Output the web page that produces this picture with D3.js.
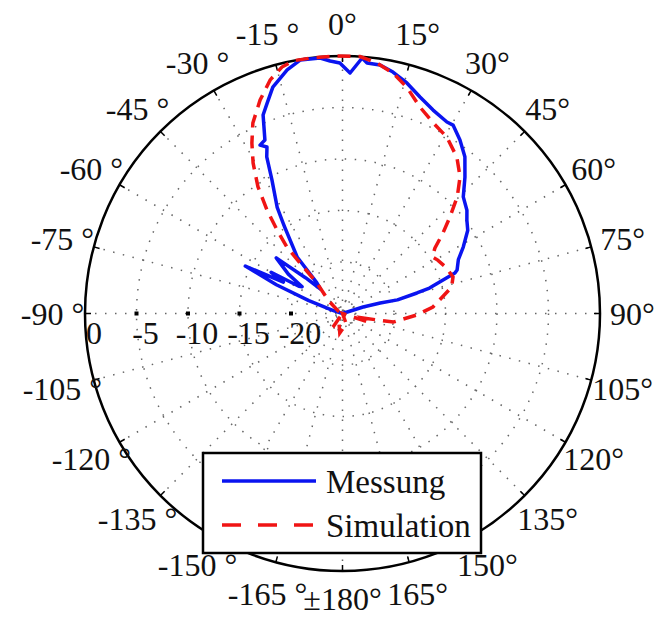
<!DOCTYPE html>
<html>
<head>
<meta charset="utf-8">
<script src="https://cdn.jsdelivr.net/npm/d3@7"></script>
<style>
  body { margin: 0; background: #fff; }
  svg text { font-family: "Liberation Serif", "Times New Roman", serif; fill: #111; }
</style>
</head>
<body>
<svg id="chart" width="659" height="620"></svg>
<script>
// angle in degrees (0 = top, clockwise), value in dB
const messAngles = [-180, -120, -80, -72, -69, -66.5, -64, -62, -60, -58, -56.5, -54, -50, -46, -42,
  -39.9, -38.8, -33.9, -33.3, -31.6, -27.8, -25.8, -24.4, -26.1, -24.1, -21.8, -19.7, -17.1, -12.8,
  -9.5, -5, -2.8, -0.6, 1.8, 4.4, 5.6, 8.6, 11.8, 15.6, 19.7, 24, 28.6, 30.4, 34.1, 38, 41.9, 46,
  50.3, 53.1, 56.4, 61.1, 65.1, 69.2, 70.2, 73.7, 74.6, 76.1, 74.4, 72.4, 80, 120, 180];
const messDb = [-25, -25, -25, -24, -21.5, -18, -14.5, -18.5, -17, -20, -20.3, -18.5, -16.6, -20, -21.8,
  -21.1, -18, -15, -14.5, -12.9, -10.3, -8.1, -7.25, -6.8, -6.55, -4.24, -3.3, -2, -0.75,
  -0.05, -0.1, -0.46, -0.68, -1.64, -0.12, -0.56, -0.6, -1.05, -1.76, -2.68, -3.38, -3.82, -3.79, -4.66, -5.7, -7.2, -8.7,
  -9.3, -9.9, -10.4, -11.6, -12.6, -13.1, -13.4, -16.2, -17.5, -19.5, -21.2, -22.9, -25, -25, -25];

const simAngles = [-180, -172, -160, -145, -100, -60, -47, -39.9, -40.1, -39.9, -38.1, -36.1, -33.7, -30.7,
  -28, -25.2, -21.1, -17.2, -13.8, -11, -6.6, -1.2, 3.9, 7.8, 11.9, 16, 20.6, 25.4, 30.6, 36.2, 40.7,
  44.5, 48.1, 51.3, 54.7, 57.7, 60.7, 66, 71.7, 76.4, 85.9, 91.2, 99.6, 102.4, 108.4, 130, 160, 180];
const simDb = [-23.5, -23.1, -24, -23.4, -25, -24.5, -23.1, -21.1, -18.6, -16.6, -14.7, -12.56, -10.2, -8,
  -6.26, -4.56, -2.78, -1.26, -0.36, 0, 0, 0, 0, -0.45, -1.15, -2.2, -3.6, -4.5, -5.1, -6.2, -7.5,
  -9.1, -11, -12.5, -14, -14.7, -14.4, -14, -13.7, -14.1, -16.2, -17.8, -20, -23, -22.4, -25, -24, -23.5];

const ringValues = [-20, -15, -10, -5];
const innerRing = -23.8;
const radialLabels = [0, -5, -10, -15, -20];
const angleTicks = d3.range(-165, 181, 15);
const seriesNames = ["Messung", "Simulation"];

const svg = d3.select("#chart");
const cx = 342.5, cy = 313.5, R = 257.5;
const g = svg.append("g").attr("transform", `translate(${cx},${cy})`);

const r = d3.scaleLinear().domain([-25, 0]).range([0, R]).clamp(true);
const rad = d => d * Math.PI / 180;

// dotted grid
const gridStyle = s => s.attr("fill", "none").attr("stroke", "#666")
  .attr("stroke-width", 1.5).attr("stroke-dasharray", "1.5,8.5");

g.selectAll(".ring").data(ringValues.concat([innerRing])).enter()
  .append("circle").attr("r", d => r(d)).call(gridStyle);

g.selectAll(".spoke").data(d3.range(0, 180, 15)).enter()
  .append("line")
  .attr("x1", d => -R * Math.sin(rad(d))).attr("y1", d => R * Math.cos(rad(d)))
  .attr("x2", d => R * Math.sin(rad(d))).attr("y2", d => -R * Math.cos(rad(d)))
  .call(gridStyle);

// outer circle + ticks
g.append("circle").attr("r", R).attr("fill", "none").attr("stroke", "#000").attr("stroke-width", 2.5);
g.selectAll(".tick").data(angleTicks).enter().append("line")
  .attr("x1", d => R * Math.sin(rad(d))).attr("y1", d => -R * Math.cos(rad(d)))
  .attr("x2", d => (R - 6) * Math.sin(rad(d))).attr("y2", d => -(R - 6) * Math.cos(rad(d)))
  .attr("stroke", "#000").attr("stroke-width", 1.5);

// radial markers and labels on the -90 axis
g.selectAll(".rmark").data(ringValues).enter().append("rect")
  .attr("x", d => -r(d) - 2).attr("y", -2).attr("width", 4).attr("height", 4).attr("fill", "#000");
g.selectAll(".rlab").data(radialLabels).enter().append("text")
  .attr("x", d => -r(d) + 9).attr("y", 30)
  .attr("text-anchor", "middle").attr("font-size", 32)
  .text(d => d);

// angle labels (bottom one pulled in a little so it stays inside the frame)
const lr = d => d === 180 ? 285 : 290;
g.selectAll(".alab").data(angleTicks).enter().append("text")
  .attr("x", d => lr(d) * Math.sin(rad(d))).attr("y", d => -lr(d) * Math.cos(rad(d)))
  .attr("dy", "0.35em").attr("text-anchor", "middle").attr("font-size", 32)
  .text(d => d === 180 ? "\u00b1180\u00b0" : d < 0 ? `${d} \u00b0` : `${d}\u00b0`);

// curves
const line = d3.lineRadial().angle(d => rad(d[0])).radius(d => r(d[1]));
const mess = messAngles.map((a, i) => [a, messDb[i]]);
const sim = simAngles.map((a, i) => [a, simDb[i]]);

g.append("path").attr("d", line(mess)).attr("fill", "none")
  .attr("stroke", "#0a14f0").attr("stroke-width", 3.5).attr("stroke-linejoin", "round");
g.append("path").attr("d", line(sim)).attr("fill", "none")
  .attr("stroke", "#f01414").attr("stroke-width", 3.5).attr("stroke-dasharray", "13,8");

// legend
const lg = svg.append("g").attr("transform", "translate(203,453)");
lg.append("rect").attr("width", 278).attr("height", 100)
  .attr("fill", "#fff").attr("stroke", "#000").attr("stroke-width", 2.5);
const items = [
  { name: seriesNames[0], color: "#0a14f0", dash: null, y: 28 },
  { name: seriesNames[1], color: "#f01414", dash: "19,17", y: 72 }
];
items.forEach(it => {
  lg.append("line").attr("x1", 19).attr("x2", 113).attr("y1", it.y).attr("y2", it.y)
    .attr("stroke", it.color).attr("stroke-width", 3.5).attr("stroke-dasharray", it.dash);
  lg.append("text").attr("x", 123).attr("y", it.y + 12).attr("font-size", 33).text(it.name);
});
</script>
</body>
</html>
